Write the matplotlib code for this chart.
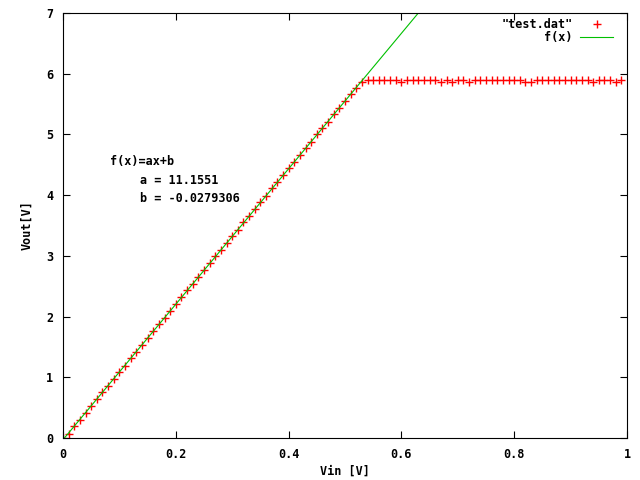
import numpy as np
import matplotlib.pyplot as plt

# measured data (test.dat)
vin = np.round(np.arange(0, 100) * 0.01, 2)
vout = [
    0.00, 0.07, 0.20, 0.30, 0.42, 0.53, 0.64, 0.75, 0.86, 0.97,
    1.09, 1.19, 1.31, 1.42, 1.53, 1.64, 1.76, 1.87, 1.98, 2.09,
    2.20, 2.32, 2.43, 2.54, 2.65, 2.76, 2.88, 2.99, 3.10, 3.21,
    3.32, 3.43, 3.55, 3.66, 3.77, 3.88, 3.99, 4.11, 4.21, 4.33,
    4.44, 4.55, 4.66, 4.77, 4.88, 5.00, 5.11, 5.21, 5.33, 5.44,
    5.55, 5.66, 5.77, 5.87, 5.89, 5.89, 5.89, 5.89, 5.89, 5.89,
    5.87, 5.89, 5.89, 5.89, 5.89, 5.89, 5.89, 5.87, 5.89, 5.87,
    5.89, 5.89, 5.87, 5.89, 5.89, 5.89, 5.89, 5.89, 5.89, 5.89,
    5.89, 5.89, 5.87, 5.87, 5.89, 5.89, 5.89, 5.89, 5.89, 5.89,
    5.89, 5.89, 5.89, 5.89, 5.87, 5.89, 5.89, 5.89, 5.87, 5.89,
]

# fit parameters f(x) = a*x + b
a = 11.1551
b = -0.0279306

font = dict(family='DejaVu Sans Mono', weight='bold', size=8.5)


def main():
    fig = plt.figure(figsize=(6.4, 4.8), dpi=100)
    ax = fig.add_axes([63 / 640, 42 / 480, 564 / 640, 425 / 480])

    ax.plot(vin, vout, '+', color='#ff0000', markersize=5.8, markeredgewidth=1.0,
            label='"test.dat"')
    xf = np.linspace(0, 1, 200)
    ax.plot(xf, a * xf + b, '-', color='#00c000', linewidth=0.8, label='f(x)')

    ax.set_xlim(0, 1)
    ax.set_ylim(0, 7)
    ax.set_xticks([0, 0.2, 0.4, 0.6, 0.8, 1])
    ax.set_xticklabels(['0', '0.2', '0.4', '0.6', '0.8', '1'])
    ax.set_yticks(range(8))
    ax.tick_params(direction='in', length=5, width=0.8, top=True, right=True,
                   pad=7)
    for lab in ax.get_xticklabels() + ax.get_yticklabels():
        lab.set_fontfamily(font['family'])
        lab.set_fontweight(font['weight'])
        lab.set_fontsize(font['size'])
    for s in ax.spines.values():
        s.set_linewidth(0.8)

    ax.set_xlabel('Vin [V]', fontdict=font, labelpad=2.5)
    ax.set_ylabel('Vout[V]', fontdict=font, labelpad=9)

    fig.text(110 / 640, 1 - 162 / 480, 'f(x)=ax+b', va='center', **font)
    fig.text(140 / 640, 1 - 180 / 480, 'a = 11.1551', va='center', **font)
    fig.text(140 / 640, 1 - 198 / 480, 'b = -0.0279306', va='center', **font)

    ax.legend(loc='upper right', bbox_to_anchor=(619 / 640, 1 - 12 / 480),
              bbox_transform=fig.transFigure, frameon=False, markerfirst=False,
              borderpad=0, handlelength=2.8, handletextpad=0.6,
              labelspacing=0.05, prop=font)

    fig.savefig('out.png', dpi=100)


if __name__ == "__main__":
    main()
